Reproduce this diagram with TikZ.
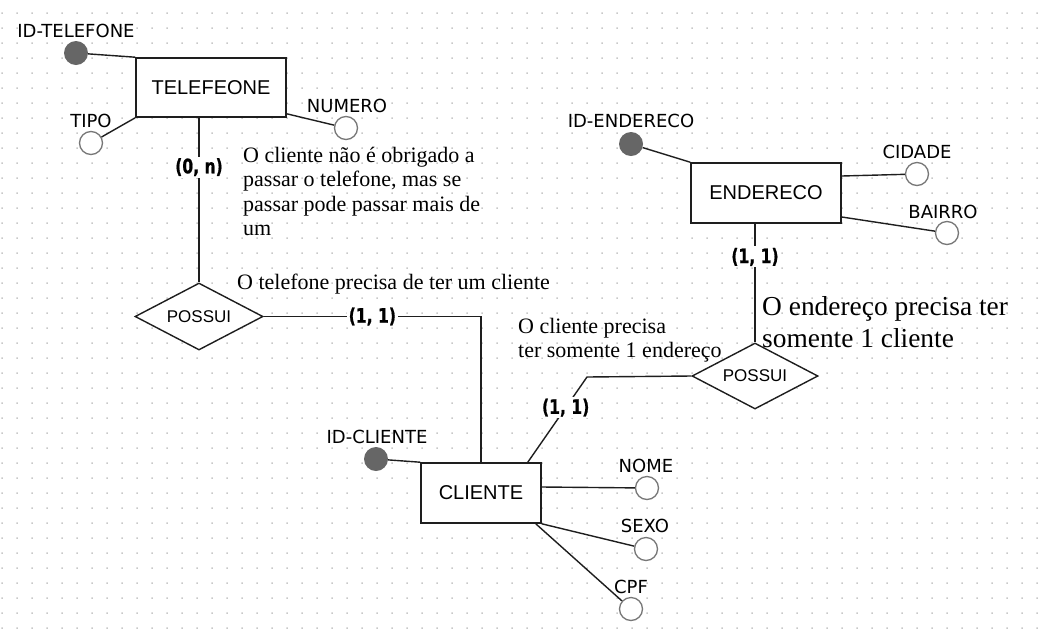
\documentclass[tikz,border=0pt]{standalone}
\usepackage{fontspec}
\setmainfont{Liberation Serif}
\newfontfamily\arialf{Liberation Sans}
\newfontfamily\attrf{DejaVu Sans}
\newfontfamily\cardf{DejaVu Sans}[FakeStretch=0.78,FakeBold=0.8]
\usetikzlibrary{shapes.geometric}
\definecolor{dotc}{HTML}{C8C8C8}
\definecolor{keyc}{HTML}{666666}
\definecolor{linec}{HTML}{1E1E1E}
\definecolor{attrc}{HTML}{777777}
\begin{document}
\begin{tikzpicture}[x=1pt,y=-1pt,
  entity/.style={draw=linec, line width=1.6pt, fill=white, rectangle, inner sep=0pt, font=\arialf\fontsize{20}{24}\selectfont},
  rel/.style={draw=linec, line width=1.4pt, fill=white, diamond, aspect=2, inner sep=0pt, font=\arialf\fontsize{17}{20}\selectfont},
  attr/.style={circle, draw=attrc, line width=1.3pt, fill=white, minimum size=23pt, inner sep=0pt},
  keyattr/.style={circle, fill=keyc, minimum size=24pt, inner sep=0pt},
  alabel/.style={font=\attrf\fontsize{18}{20}\selectfont, inner sep=0pt},
  card/.style={font=\cardf\bfseries\fontsize{20}{22}\selectfont, fill=white, inner sep=1.5pt},
  note/.style={font=\fontsize{22}{24}\selectfont, inner sep=0pt, anchor=base west},
  bignote/.style={font=\fontsize{27.4}{33}\selectfont, inner sep=0pt, anchor=base west},
  conn/.style={draw=linec, line width=1.4pt},
]
\useasboundingbox (0,0) rectangle (1050,641);
\fill[white] (0,0) rectangle (1050,641);
\fill[dotc] \foreach \i in {0,...,69} { \foreach \j in {0,...,42} { (2+15*\i-0.75, 13+15*\j-0.75) rectangle ++(1.5,1.5) } };

% entities
\node[entity, minimum width=150pt, minimum height=59pt] (tel) at (211,87.5) {TELEFEONE};
\node[entity, minimum width=150pt, minimum height=60pt] (ender) at (766,193) {ENDERECO};
\node[entity, minimum width=120pt, minimum height=60pt] (cli) at (481,493) {CLIENTE};

% relationships
\node[rel, minimum width=128pt, minimum height=67pt] (pos1) at (199,316.5) {POSSUI};
\node[rel, minimum width=126pt, minimum height=66pt] (pos2) at (755,376) {POSSUI};

% attributes
\node[keyattr] (idtel) at (76,53) {};
\node[attr] (tipo) at (91,143) {};
\node[attr] (numero) at (346,128) {};
\node[keyattr] (idend) at (631,144) {};
\node[attr] (cidade) at (917,174) {};
\node[attr] (bairro) at (947,233) {};
\node[keyattr] (idcli) at (376,459) {};
\node[attr] (nome) at (647,488) {};
\node[attr] (sexo) at (646,549) {};
\node[attr] (cpf) at (631,609) {};

% attribute labels
\node[alabel] (lidtel) at (76,31) {ID-TELEFONE};
\node[alabel] (ltipo) at (91,121) {TIPO};
\node[alabel] (lnumero) at (347,106) {NUMERO};
\node[alabel] (lidend) at (631,121) {ID-ENDERECO};
\node[alabel] (lcidade) at (917,152) {CIDADE};
\node[alabel] (lbairro) at (943,212) {BAIRRO};
\node[alabel] (lidcli) at (377,437) {ID-CLIENTE};
\node[alabel] (lnome) at (646,466) {NOME};
\node[alabel] (lsexo) at (645,526) {SEXO};
\node[alabel] (lcpf) at (631,587) {CPF};

% connectors
\draw[conn] (idtel) -- (tel.north west);
\draw[conn] (tipo) -- (tel.south west);
\draw[conn] (numero) -- ([yshift=4pt]tel.south east);
\draw[conn] (tel.south -| pos1.north) -- node[card, pos=0.3]{(0, n)} (pos1.north);
\draw[conn] (pos1.east) -| node[card, pos=0.25]{(1, 1)} (cli.north);
\coordinate (bend2) at (587,377);
\draw[conn] ([xshift=-14pt]cli.north east) -- node[card, pos=0.64]{(1, 1)} (bend2) -- (pos2.west);
\draw[conn] (ender.south -| pos2.north) -- node[card, pos=0.28]{(1, 1)} (pos2.north);
\draw[conn] (idend) -- (ender.north west);
\draw[conn] (cidade) -- ([yshift=17pt]ender.east);
\draw[conn] (bairro) -- ([yshift=-24pt]ender.east);
\draw[conn] (idcli) -- (cli.north west);
\draw[conn] (nome) -- ([yshift=6pt]cli.east);
\draw[conn] (sexo) -- (cli.south east);
\draw[conn] (cpf) -- ([xshift=-6pt]cli.south east);

% notes
\node[note] (n1a) at (243,162) {O cliente não é obrigado a};
\node[note] (n1b) at (243,186.5) {passar o telefone, mas se};
\node[note] (n1c) at (243,211) {passar pode passar mais de};
\node[note] (n1d) at (243,235.5) {um};
\node[note] (n2) at (237,289) {O telefone precisa de ter um cliente};
\node[note] (n3a) at (518,333) {O cliente precisa};
\node[note] (n3b) at (518,357) {ter somente 1 endereço};
\node[bignote] (n4a) at (762,315) {O endereço precisa ter};
\node[bignote] (n4b) at (762,347) {somente 1 cliente};
\end{tikzpicture}
\end{document}
